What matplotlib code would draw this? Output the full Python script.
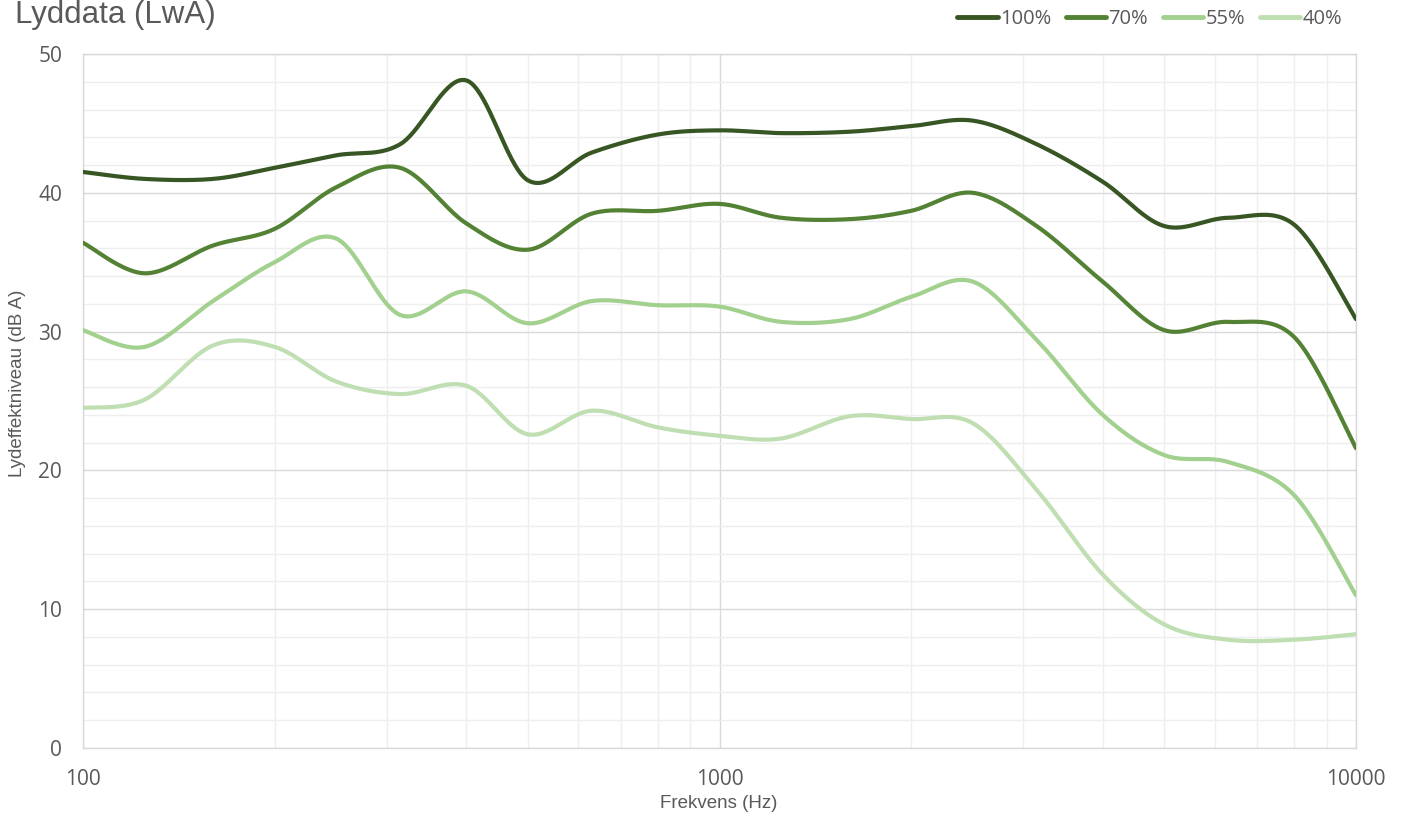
import numpy as np
import matplotlib
matplotlib.use("Agg")
import matplotlib.pyplot as plt
from matplotlib.ticker import FixedLocator, NullFormatter

# ---------------- data (third-octave bands) ----------------
freqs = [100, 125, 160, 200, 250, 315, 400, 500, 630, 800, 1000,
         1250, 1600, 2000, 2500, 3150, 4000, 5000, 6300, 8000, 10000]

lwa_100 = [41.5, 41.0, 41.0, 41.8, 42.7, 43.5, 48.1, 40.9, 42.9, 44.2, 44.5,
           44.3, 44.4, 44.8, 45.2, 43.5, 40.8, 37.6, 38.2, 37.7, 30.9]
lwa_70 = [36.4, 34.2, 36.2, 37.4, 40.4, 41.8, 37.8, 35.9, 38.5, 38.7, 39.2,
          38.2, 38.1, 38.7, 40.0, 37.6, 33.6, 30.1, 30.7, 29.6, 21.6]
lwa_55 = [30.1, 28.9, 32.2, 35.0, 36.7, 31.2, 32.9, 30.6, 32.2, 31.9, 31.8,
          30.7, 30.9, 32.5, 33.6, 29.4, 24.0, 21.1, 20.6, 18.2, 11.0]
lwa_40 = [24.5, 25.1, 29.0, 28.9, 26.4, 25.5, 26.1, 22.6, 24.3, 23.1, 22.5,
          22.3, 23.9, 23.7, 23.4, 18.6, 12.5, 8.9, 7.8, 7.8, 8.2]

series_labels = ["100%", "70%", "55%", "40%"]
series_colors = ["#375623", "#548235", "#A2D08E", "#BFDFB2"]


# ---------------- Excel-like smoothing (Catmull-Rom in log-x space) ----------------
def smooth(x, y, n=40):
    lx = np.log10(np.asarray(x, float))
    y = np.asarray(y, float)
    px = np.concatenate([[lx[0]], lx, [lx[-1]]])
    py = np.concatenate([[y[0]], y, [y[-1]]])
    xs, ys = [], []
    t = np.linspace(0, 1, n)
    for i in range(1, len(px) - 2):
        # bezier control points: P + (Pnext - Pprev)/6
        x0, x3 = px[i], px[i + 1]
        y0, y3 = py[i], py[i + 1]
        x1 = x0 + (px[i + 1] - px[i - 1]) / 6
        y1 = y0 + (py[i + 1] - py[i - 1]) / 6
        x2 = x3 - (px[i + 2] - px[i]) / 6
        y2 = y3 - (py[i + 2] - py[i]) / 6
        b0, b1, b2, b3 = (1 - t) ** 3, 3 * t * (1 - t) ** 2, 3 * t ** 2 * (1 - t), t ** 3
        xs.append(b0 * x0 + b1 * x1 + b2 * x2 + b3 * x3)
        ys.append(b0 * y0 + b1 * y1 + b2 * y2 + b3 * y3)
    return 10 ** np.concatenate(xs), np.concatenate(ys)


# ---------------- figure ----------------
fig = plt.figure(figsize=(14.02, 8.16), dpi=100)
ax = fig.add_axes([83 / 1402, 1 - 748 / 816, (1356 - 83) / 1402, (748 - 54) / 816])

for vals, lab, col in zip([lwa_100, lwa_70, lwa_55, lwa_40], series_labels, series_colors):
    sx, sy = smooth(freqs, vals)
    ax.plot(sx, sy, color=col, lw=3.0, label=lab, solid_capstyle="round", zorder=3)

ax.set_xscale("log")
ax.set_xlim(100, 10000)
ax.set_ylim(0, 50)

ax.xaxis.set_major_locator(FixedLocator([100, 1000, 10000]))
ax.xaxis.set_minor_locator(FixedLocator([k * 10 ** e for e in (2, 3) for k in range(2, 10)]))
ax.xaxis.set_minor_formatter(NullFormatter())
ax.set_xticklabels(["100", "1000", "10000"])
ax.set_yticks(range(0, 51, 10))
ax.set_yticks(range(0, 51, 2), minor=True)

ax.grid(which="major", color="#d9d9d9", lw=1.0, zorder=0)
ax.grid(which="minor", color="#eeeeee", lw=1.0, zorder=0)
ax.set_axisbelow(True)
for s in ax.spines.values():
    s.set_color("#d9d9d9")
    s.set_linewidth(1.0)

ax.tick_params(which="both", length=0)
ax.tick_params(axis="x", pad=15, labelsize=15, labelcolor="#595959")
ax.tick_params(axis="y", pad=15, labelsize=15, labelcolor="#595959")
for lab in ax.get_xticklabels() + ax.get_yticklabels():
    lab.set_family(["Open Sans", "DejaVu Sans"])

narrow = ["Liberation Sans Narrow", "Liberation Sans", "DejaVu Sans"]
fig.text(719 / 1402, 1 - 803 / 816, "Frekvens (Hz)", ha="center", va="center",
         fontsize=13.5, color="#595959", family=narrow)
fig.text(18 / 1402, 1 - 383 / 816, "Lydeffektniveau (dB A)", ha="center", va="center",
         rotation=90, fontsize=13.5, color="#595959", family=narrow)

fig.text(15 / 1402, 1 - 23 / 816, "Lyddata (LwA)", ha="left", va="baseline",
         fontsize=22.5, color="#595959", family=["Liberation Sans", "DejaVu Sans"])

leg = fig.legend(loc="center right", bbox_to_anchor=(1342 / 1402, 1 - 19 / 816), ncol=4,
                 frameon=False, borderpad=0, borderaxespad=0,
                 handlelength=2.0, handletextpad=0.1, columnspacing=0.75,
                 prop={"family": ["Open Sans", "DejaVu Sans"], "size": 14.5})
for t in leg.get_texts():
    t.set_color("#595959")
for h in leg.get_lines():
    h.set_linewidth(3.5)

fig.savefig("out.png", dpi=100)
